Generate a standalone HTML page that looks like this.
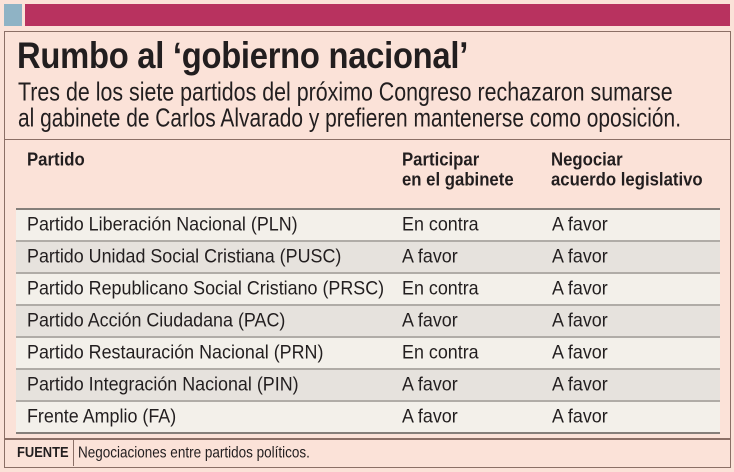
<!DOCTYPE html>
<html><head><meta charset="utf-8">
<style>
html,body{margin:0;padding:0;}
body{width:734px;height:472px;position:relative;overflow:hidden;background:#fbe2d8;font-family:"Liberation Sans",Arial,sans-serif;color:#221e1f;}
.a{position:absolute;}
.t{position:absolute;white-space:nowrap;transform-origin:0 0;}
.row{position:absolute;left:16px;width:704px;height:32px;}
.r{font-size:19px;line-height:19px;transform:scaleX(0.942) scaleY(1.04);}
.h{font-size:18px;line-height:18px;font-weight:bold;transform:scaleX(0.93) scaleY(1.04);}
</style></head><body>
<div class="a" style="left:4px;top:4px;width:18px;height:22px;background:#8fb3c5;"></div>
<div class="a" style="left:25px;top:4px;width:705px;height:22px;background:#b8325f;"></div>
<div class="a" style="left:4px;top:31px;width:725px;height:435px;border:1px solid #8b6f66;"></div>
<div class="a" style="left:4px;top:139px;width:727px;height:1px;background:#8b6f66;"></div>

<div class="t" style="left:17px;top:36.5px;font-size:37px;line-height:37px;font-weight:bold;transform:scaleX(0.885);letter-spacing:-0.3px;">Rumbo al ‘gobierno nacional’</div>
<div class="t" style="left:18px;top:80px;font-size:25px;line-height:25px;transform:scaleX(0.856) scaleY(1.03);">Tres de los siete partidos del próximo Congreso rechazaron sumarse</div>
<div class="t" style="left:18px;top:105.5px;font-size:25px;line-height:25px;transform:scaleX(0.837) scaleY(1.03);">al gabinete de Carlos Alvarado y prefieren mantenerse como oposición.</div>

<div class="t h" style="left:27px;top:149.5px;">Partido</div>
<div class="t h" style="left:402px;top:149.5px;">Participar</div>
<div class="t h" style="left:402px;top:169.5px;">en el gabinete</div>
<div class="t h" style="left:551px;top:149.5px;">Negociar</div>
<div class="t h" style="left:551px;top:169.5px;">acuerdo legislativo</div>

<div class="row" style="top:208px;background:#f3f0ea;border-top:2px solid #857f7a;box-sizing:border-box;"></div>
<div class="row" style="top:240px;background:#e6e2dd;border-top:2px solid #b0aca7;box-sizing:border-box;"></div>
<div class="row" style="top:272px;background:#f3f0ea;border-top:2px solid #b0aca7;box-sizing:border-box;"></div>
<div class="row" style="top:304px;background:#e6e2dd;border-top:2px solid #b0aca7;box-sizing:border-box;"></div>
<div class="row" style="top:336px;background:#f3f0ea;border-top:2px solid #b0aca7;box-sizing:border-box;"></div>
<div class="row" style="top:368px;background:#e6e2dd;border-top:2px solid #b0aca7;box-sizing:border-box;"></div>
<div class="row" style="top:400px;background:#f3f0ea;border-top:2px solid #b0aca7;box-sizing:border-box;"></div>
<div class="a" style="left:16px;top:432px;width:704px;height:2px;background:#857f7a;"></div>

<div class="t r" style="left:27px;top:214.5px;">Partido Liberación Nacional (PLN)</div>
<div class="t r" style="left:402px;top:214.5px;">En contra</div>
<div class="t r" style="left:552px;top:214.5px;">A favor</div>

<div class="t r" style="left:27px;top:246.5px;">Partido Unidad Social Cristiana (PUSC)</div>
<div class="t r" style="left:402px;top:246.5px;">A favor</div>
<div class="t r" style="left:552px;top:246.5px;">A favor</div>

<div class="t r" style="left:27px;top:278.5px;">Partido Republicano Social Cristiano (PRSC)</div>
<div class="t r" style="left:402px;top:278.5px;">En contra</div>
<div class="t r" style="left:552px;top:278.5px;">A favor</div>

<div class="t r" style="left:27px;top:310.5px;">Partido Acción Ciudadana (PAC)</div>
<div class="t r" style="left:402px;top:310.5px;">A favor</div>
<div class="t r" style="left:552px;top:310.5px;">A favor</div>

<div class="t r" style="left:27px;top:342.5px;">Partido Restauración Nacional (PRN)</div>
<div class="t r" style="left:402px;top:342.5px;">En contra</div>
<div class="t r" style="left:552px;top:342.5px;">A favor</div>

<div class="t r" style="left:27px;top:374.5px;">Partido Integración Nacional (PIN)</div>
<div class="t r" style="left:402px;top:374.5px;">A favor</div>
<div class="t r" style="left:552px;top:374.5px;">A favor</div>

<div class="t r" style="left:27px;top:406.5px;">Frente Amplio (FA)</div>
<div class="t r" style="left:402px;top:406.5px;">A favor</div>
<div class="t r" style="left:552px;top:406.5px;">A favor</div>

<div class="a" style="left:4px;top:438px;width:727px;height:2px;background:#8b6f66;"></div>
<div class="a" style="left:73px;top:440px;width:1px;height:26px;background:#8b6f66;"></div>
<div class="t" style="left:17px;top:445px;font-size:15px;line-height:15px;font-weight:bold;transform:scaleX(0.86);">FUENTE</div>
<div class="t" style="left:78px;top:445px;font-size:15px;line-height:15px;transform:scaleX(0.9) scaleY(1.03);">Negociaciones entre partidos políticos.</div>
</body></html>
